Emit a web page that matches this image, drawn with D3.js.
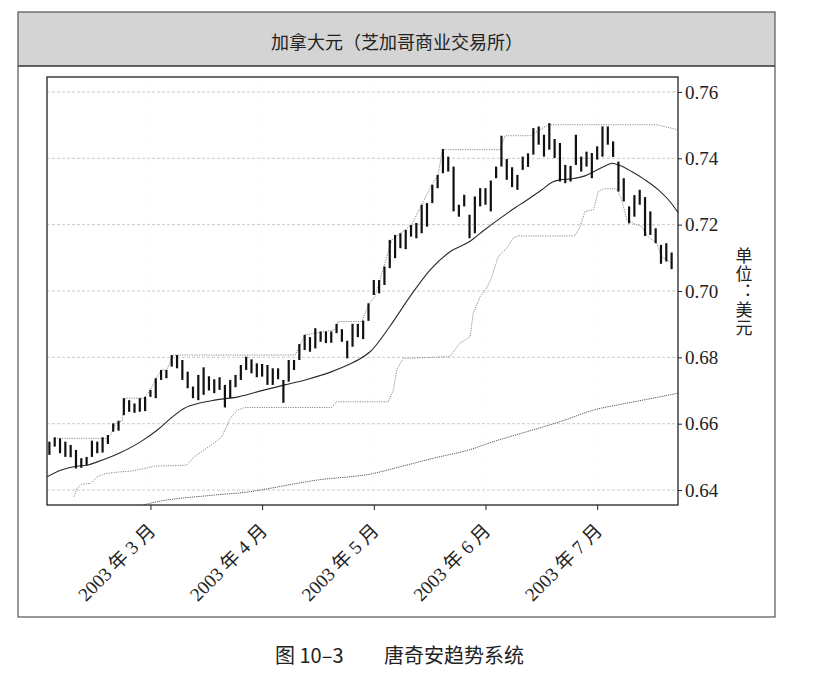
<!DOCTYPE html>
<html>
<head>
<meta charset="utf-8">
<script src="https://cdn.jsdelivr.net/npm/d3@7"></script>
<style>
	body { margin: 0; background: #fff; }
	svg { display: block; }
</style>
</head>
<body>
<figure id="cadChart" style="margin:0"></figure>
<script>
// month ticks (index of first trading day in month)
const monthLabels = ["2003 年 3 月", "2003 年 4 月", "2003 年 5 月", "2003 年 6 月", "2003 年 7 月"];
const monthIdx = [19, 40, 61, 82, 103];
const yTicks = [0.64, 0.66, 0.68, 0.70, 0.72, 0.74, 0.76];

// daily high / low, one per trading day from Feb 3 2003
const highs = [
	0.6546, 0.6559, 0.6556, 0.6546, 0.6536, 0.6521, 0.6496, 0.6500, 0.6549, 0.6546,
	0.6559, 0.6566, 0.6601, 0.6609, 0.6677, 0.6671, 0.6661, 0.6677, 0.6681, 0.6702,
	0.6737, 0.6762, 0.6762, 0.6807, 0.6807, 0.6792, 0.6757, 0.6712, 0.6747, 0.6770,
	0.6743, 0.6734, 0.6740, 0.6717, 0.6732, 0.6747, 0.6777, 0.6802, 0.6794, 0.6782,
	0.6780, 0.6777, 0.6767, 0.6767, 0.6732, 0.6792, 0.6792, 0.6840, 0.6868, 0.6861,
	0.6888, 0.6878, 0.6878, 0.6878, 0.6901, 0.6885, 0.6850, 0.6901, 0.6901, 0.6911,
	0.6963, 0.7033, 0.7033, 0.7074, 0.7154, 0.7169, 0.7174, 0.7184, 0.7199, 0.7205,
	0.7260, 0.7265, 0.7320, 0.7350, 0.7428, 0.7405, 0.7375, 0.7260, 0.7290, 0.7230,
	0.7285, 0.7310, 0.7310, 0.7333, 0.7375, 0.7468, 0.7398, 0.7373, 0.7350, 0.7405,
	0.7415, 0.7491, 0.7496, 0.7471, 0.7506, 0.7458, 0.7446, 0.7380, 0.7377, 0.7471,
	0.7405, 0.7420, 0.7416, 0.7436, 0.7496, 0.7496, 0.7451, 0.7390, 0.7340, 0.7255,
	0.7289, 0.7305, 0.7283, 0.7240, 0.7189, 0.7139, 0.7144, 0.7116
];
const lows = [
	0.6506, 0.6531, 0.6511, 0.6500, 0.6499, 0.6465, 0.6467, 0.6475, 0.6500, 0.6511,
	0.6513, 0.6539, 0.6576, 0.6579, 0.6626, 0.6636, 0.6633, 0.6636, 0.6638, 0.6681,
	0.6677, 0.6732, 0.6737, 0.6772, 0.6767, 0.6732, 0.6707, 0.6677, 0.6671, 0.6687,
	0.6700, 0.6692, 0.6702, 0.6649, 0.6677, 0.6710, 0.6732, 0.6762, 0.6752, 0.6740,
	0.6742, 0.6717, 0.6717, 0.6734, 0.6663, 0.6727, 0.6762, 0.6792, 0.6822, 0.6817,
	0.6827, 0.6847, 0.6843, 0.6844, 0.6873, 0.6847, 0.6797, 0.6832, 0.6861, 0.6855,
	0.6910, 0.6988, 0.6993, 0.7018, 0.7069, 0.7099, 0.7129, 0.7126, 0.7164, 0.7159,
	0.7174, 0.7194, 0.7265, 0.7310, 0.7355, 0.7360, 0.7240, 0.7224, 0.7255, 0.7159,
	0.7174, 0.7255, 0.7260, 0.7240, 0.7340, 0.7375, 0.7335, 0.7313, 0.7305, 0.7365,
	0.7374, 0.7411, 0.7441, 0.7405, 0.7426, 0.7401, 0.7330, 0.7325, 0.7330, 0.7380,
	0.7360, 0.7375, 0.7340, 0.7396, 0.7405, 0.7441, 0.7404, 0.7300, 0.7270, 0.7204,
	0.7224, 0.7260, 0.7166, 0.7169, 0.7144, 0.7082, 0.7089, 0.7066
];

// moving average (solid), [day index, price]
const maLine = [
	[-0.45, 0.6440], [2.1, 0.6460], [5.1, 0.6472], [7.1, 0.6475], [9.0, 0.6485],
	[13.1, 0.6511], [17.2, 0.6546], [20.3, 0.6581], [22.8, 0.6616], [25.3, 0.6646],
	[28.5, 0.6663], [31.0, 0.6671], [35.5, 0.6681], [40.5, 0.6702], [44.3, 0.6717],
	[48.1, 0.6732], [53.1, 0.6757], [56.8, 0.6782], [59.3, 0.6805], [60.3, 0.6817],
	[64.0, 0.6893], [67.8, 0.6983], [71.6, 0.7064], [75.4, 0.7119], [79.1, 0.7150],
	[81.8, 0.7184], [84.4, 0.7215], [87.5, 0.7250], [89.4, 0.7270], [92.6, 0.7305],
	[94.5, 0.7328], [96.0, 0.7335], [98.2, 0.7338], [100.7, 0.7347], [102.6, 0.7362],
	[104.5, 0.7377], [105.8, 0.7385], [107.3, 0.7378], [109.5, 0.7360], [112.0, 0.7335],
	[114.5, 0.7305], [116.4, 0.7275], [118.2, 0.7237]
];

// donchian channel, upper band
const upperBand = [
	[1.0, 0.6556], [10.9, 0.6556], [11.5, 0.6566], [12.5, 0.6601], [13.7, 0.6609],
	[14.3, 0.6677], [17.8, 0.6677], [19.0, 0.6702], [20.1, 0.6737], [21.1, 0.6762],
	[22.1, 0.6762], [23.2, 0.6807], [46.2, 0.6807], [48.1, 0.6868], [53.7, 0.6883],
	[54.3, 0.6908], [58.7, 0.6908], [60.2, 0.6963], [61.2, 0.6983], [64.4, 0.7154],
	[65.6, 0.7169], [68.1, 0.7199], [70.0, 0.7260], [71.9, 0.7320], [73.1, 0.7350],
	[73.9, 0.7426], [84.7, 0.7426], [85.7, 0.7468], [90.4, 0.7468], [93.8, 0.7501],
	[114.2, 0.7501], [118.2, 0.7486]
];

// donchian channel, lower band
const lowerBand = [
	[4.6, 0.6380], [5.2, 0.6405], [6.1, 0.6418], [7.8, 0.6420], [9.0, 0.6440],
	[10.6, 0.6450], [13.4, 0.6455], [15.3, 0.6457], [17.8, 0.6465], [19.7, 0.6472],
	[25.8, 0.6475], [27.2, 0.6500], [29.1, 0.6521], [30.9, 0.6541], [32.4, 0.6560],
	[34.0, 0.6616], [35.2, 0.6640], [36.8, 0.6649], [53.1, 0.6649], [54.0, 0.6666],
	[63.7, 0.6666], [64.7, 0.6702], [65.3, 0.6762], [66.5, 0.6797], [75.3, 0.6802],
	[77.2, 0.6843], [79.1, 0.6862], [79.7, 0.6933], [81.0, 0.6983], [82.2, 0.7008],
	[83.2, 0.7043], [84.4, 0.7104], [86.0, 0.7129], [87.2, 0.7159], [88.2, 0.7166],
	[98.8, 0.7166], [99.8, 0.7194], [100.7, 0.7240], [102.3, 0.7245], [103.2, 0.7300],
	[104.2, 0.7308], [106.7, 0.7308], [107.6, 0.7275], [108.6, 0.7214], [109.8, 0.7204],
	[111.4, 0.7194], [112.3, 0.7169], [112.9, 0.7159], [114.2, 0.7144], [115.1, 0.7104],
	[117.0, 0.7084]
];

// long term average (dotted, bottom)
const longMa = [
	[17.0, 0.6352], [18.9, 0.6360], [31.0, 0.6385], [37.7, 0.6395], [39.6, 0.6400],
	[50.3, 0.6430], [60.9, 0.6450], [65.9, 0.6470], [72.2, 0.6496], [79.1, 0.6522],
	[83.5, 0.6546], [89.8, 0.6576], [96.0, 0.6606], [102.3, 0.6641], [108.6, 0.6662],
	[114.8, 0.6681], [118.2, 0.6692]
];

class CadChart {

	constructor() {
		this.width = 813;
		this.height = 673;
		this.plot = { left: 47, top: 77, right: 678, bottom: 505 };
	}

	init() {
		const figure = d3.select("figure#cadChart");
		this.svg = figure.append("svg")
			.attr("width", this.width).attr("height", this.height)
			.attr("viewBox", `0 0 ${this.width} ${this.height}`);
	}

	draw() {
		const svg = this.svg;
		const p = this.plot;

		// outer frame and title band
		svg.append("rect").attr("x", 18).attr("y", 12).attr("width", 757).attr("height", 54)
			.attr("fill", "#d4d4d4");
		svg.append("line").attr("x1", 18).attr("x2", 775).attr("y1", 66).attr("y2", 66)
			.attr("stroke", "#333").attr("stroke-width", 1.5);
		svg.append("rect").attr("x", 18).attr("y", 12).attr("width", 757).attr("height", 605)
			.attr("fill", "none").attr("stroke", "#555").attr("stroke-width", 1.2);
		svg.append("text").attr("x", 397).attr("y", 49).attr("text-anchor", "middle")
			.attr("font-family", "Noto Sans CJK SC").attr("font-size", 18).attr("fill", "#222")
			.text("加拿大元（芝加哥商业交易所）");

		this.x = d3.scaleLinear().domain([-0.45, 118.2]).range([p.left, p.right]);
		this.y = d3.scaleLinear().domain([0.6355, 0.7645]).range([p.bottom, p.top]);
		const x = this.x, y = this.y;

		svg.append("clipPath").attr("id", "plotClip").append("rect")
			.attr("x", p.left).attr("y", p.top).attr("width", p.right - p.left).attr("height", p.bottom - p.top);
		const g = svg.append("g").attr("clip-path", "url(#plotClip)");

		// grid
		g.selectAll("line.hgrid").data(yTicks).enter().append("line")
			.attr("class", "hgrid")
			.attr("x1", p.left).attr("x2", p.right)
			.attr("y1", (d) => y(d)).attr("y2", (d) => y(d))
			.attr("stroke", "#bdbdbd").attr("stroke-width", 0.8).attr("stroke-dasharray", "3,2");
		g.selectAll("line.vgrid").data(monthIdx).enter().append("line")
			.attr("class", "vgrid")
			.attr("x1", (d) => x(d)).attr("x2", (d) => x(d))
			.attr("y1", p.top).attr("y2", p.bottom)
			.attr("stroke", "#ececec").attr("stroke-width", 0.8).attr("stroke-dasharray", "1,4");

		const line = d3.line().x((d) => x(d[0])).y((d) => y(d[1]));
		const smooth = d3.line().x((d) => x(d[0])).y((d) => y(d[1])).curve(d3.curveMonotoneX);

		g.append("path").attr("d", smooth(longMa)).attr("fill", "none")
			.attr("stroke", "#555").attr("stroke-width", 1).attr("stroke-dasharray", "1.2,1");
		g.append("path").attr("d", line(upperBand)).attr("fill", "none")
			.attr("stroke", "#8a8a8a").attr("stroke-width", 1).attr("stroke-dasharray", "1.2,1.2");
		g.append("path").attr("d", line(lowerBand)).attr("fill", "none")
			.attr("stroke", "#8a8a8a").attr("stroke-width", 1).attr("stroke-dasharray", "1.2,1.2");
		g.append("path").attr("d", smooth(maLine)).attr("fill", "none")
			.attr("stroke", "#2a2a2a").attr("stroke-width", 1.1);

		// high-low bars
		g.selectAll("line.bar").data(highs).enter().append("line")
			.attr("class", "bar")
			.attr("x1", (d, i) => x(i)).attr("x2", (d, i) => x(i))
			.attr("y1", (d) => y(d)).attr("y2", (d, i) => y(lows[i]))
			.attr("stroke", "#111").attr("stroke-width", 2.2);

		// frame
		svg.append("rect").attr("x", p.left).attr("y", p.top)
			.attr("width", p.right - p.left).attr("height", p.bottom - p.top)
			.attr("fill", "none").attr("stroke", "#222").attr("stroke-width", 1.3);

		// Y axis (right)
		const yAxis = svg.append("g").attr("transform", `translate(${p.right},0)`)
			.call(d3.axisRight(y).tickValues(yTicks).tickSize(4).tickPadding(3).tickFormat(d3.format(".2f")));
		yAxis.select(".domain").remove();
		yAxis.selectAll(".tick line").attr("stroke", "#222");
		yAxis.selectAll(".tick text").attr("font-family", "Liberation Serif").attr("font-size", 19).attr("fill", "#222");

		// X axis
		const xAxis = svg.append("g").attr("transform", `translate(0,${p.bottom})`)
			.call(d3.axisBottom(x).tickValues(monthIdx).tickSize(5).tickFormat((d, i) => monthLabels[i]));
		xAxis.select(".domain").remove();
		xAxis.selectAll(".tick line").attr("stroke", "#222");
		xAxis.selectAll(".tick text")
			.attr("font-family", "Liberation Serif, Noto Sans CJK SC").attr("font-size", 19).attr("fill", "#222")
			.attr("text-anchor", "end").attr("x", 0).attr("y", 0).attr("dy", "0.35em")
			.attr("transform", "translate(1,22) rotate(-45)");

		// unit label, written top to bottom
		svg.append("text")
			.attr("x", 744).attr("y", 247)
			.attr("font-family", "Noto Sans CJK SC").attr("font-size", 17).attr("fill", "#222")
			.attr("letter-spacing", 1)
			.style("writing-mode", "vertical-rl")
			.style("text-orientation", "upright")
			.style("font-feature-settings", "'vert' 0")
			.text("单位：美元");

		// caption
		svg.append("text").attr("x", 275).attr("y", 663)
			.attr("font-family", "Noto Sans CJK SC").attr("font-size", 20).attr("fill", "#222")
			.text("图 10–3");
		svg.append("text").attr("x", 384).attr("y", 663)
			.attr("font-family", "Noto Sans CJK SC").attr("font-size", 20).attr("fill", "#222")
			.text("唐奇安趋势系统");
	}
}

const cadChart = new CadChart();
cadChart.init();
cadChart.draw();
</script>
</body>
</html>
